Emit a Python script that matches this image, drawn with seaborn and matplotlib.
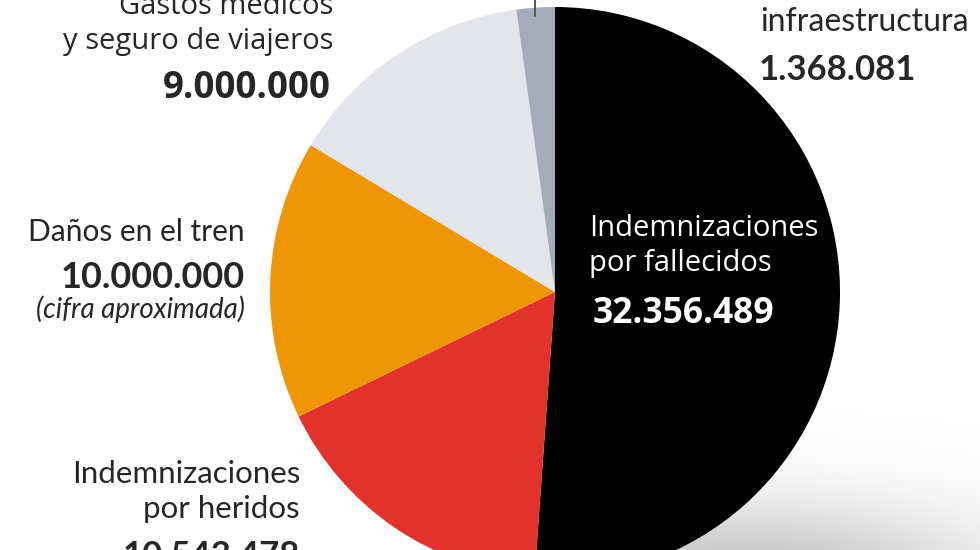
import numpy as np
import matplotlib
matplotlib.use("Agg")
import matplotlib.pyplot as plt
import seaborn as sns

# Datos del gráfico (euros)
categorias = ["Indemnizaciones por fallecidos", "Indemnizaciones por heridos",
              "Daños en el tren", "Gastos médicos y seguro de viajeros",
              "Daños en la infraestructura"]
importes = [32356489, 10543478, 10000000, 9000000, 1368081]
colores = ["#000000", "#e3312b", "#f09505", "#e4e5eb", "#a3acba"]

sns.set_theme(style="white")
plt.rcParams["font.family"] = ["Lato", "DejaVu Sans"]
OPEN = ["Open Sans", "DejaVu Sans"]

W, H = 980, 550
fig = plt.figure(figsize=(W / 100, H / 100), dpi=100)
ax = fig.add_axes([0, 0, 1, 1])


def Y(y):
    # coordenada en pixeles desde arriba -> coordenada de datos
    return H - y


# sombra difusa bajo la tarta
gx, gy = np.meshgrid(np.linspace(480, 980, 300), np.linspace(400, 550, 120))
alpha = 0.5 * np.exp(-((gx - 750) / 240) ** 2 - ((gy - 585) / 80) ** 2)
sombra = np.zeros(gx.shape + (4,))
sombra[..., :3] = 0.5
sombra[..., 3] = alpha
ax.imshow(sombra, extent=(480, 980, Y(550), Y(400)), origin="upper",
          zorder=0, interpolation="bilinear")

ax.pie(importes, colors=colores, startangle=90, counterclock=False,
       center=(555, Y(292)), radius=285,
       wedgeprops=dict(linewidth=0))
ax.set_xlim(0, W)
ax.set_ylim(0, H)
ax.set_aspect("auto")
ax.axis("off")

# linea guia de infraestructura
ax.plot([535, 535], [Y(-2), Y(16)], color="#555555", lw=1.4, zorder=5)

# Gastos medicos
ax.text(333, Y(6), "Gastos médicos", ha="right", va="center", fontsize=21, family=OPEN)
ax.text(333, Y(42), "y seguro de viajeros", ha="right", va="center", fontsize=21, family=OPEN)
ax.text(331, Y(88), "9.000.000", ha="right", va="center", fontsize=26.5,
        fontweight="bold", family=OPEN)

# Infraestructura
ax.text(760, Y(22), "infraestructura", ha="left", va="center", fontsize=23)
ax.text(759, Y(70), "1.368.081", ha="left", va="center", fontsize=25, fontweight="bold")

# Daños en el tren
ax.text(245, Y(232), "Daños en el tren", ha="right", va="center", fontsize=21.5)
ax.text(245, Y(277), "10.000.000", ha="right", va="center", fontsize=26, fontweight="bold")
ax.text(245, Y(309), "(cifra aproximada)", ha="right", va="center", fontsize=20, style="italic")

# Fallecidos
ax.text(589, Y(229), "Indemnizaciones", ha="left", va="center", fontsize=21,
        color="white", family=OPEN)
ax.text(589, Y(264), "por fallecidos", ha="left", va="center", fontsize=21,
        color="white", family=OPEN)
ax.text(593, Y(314), "32.356.489", ha="left", va="center", fontsize=25.5,
        fontweight="bold", color="white", family=OPEN)

# Heridos
ax.text(300, Y(474), "Indemnizaciones", ha="right", va="center", fontsize=22.5)
ax.text(300, Y(509), "por heridos", ha="right", va="center", fontsize=22.5)
ax.text(300, Y(556), "10.543.478", ha="right", va="center", fontsize=25, fontweight="bold")

fig.savefig("out.png", dpi=100, facecolor="white")
